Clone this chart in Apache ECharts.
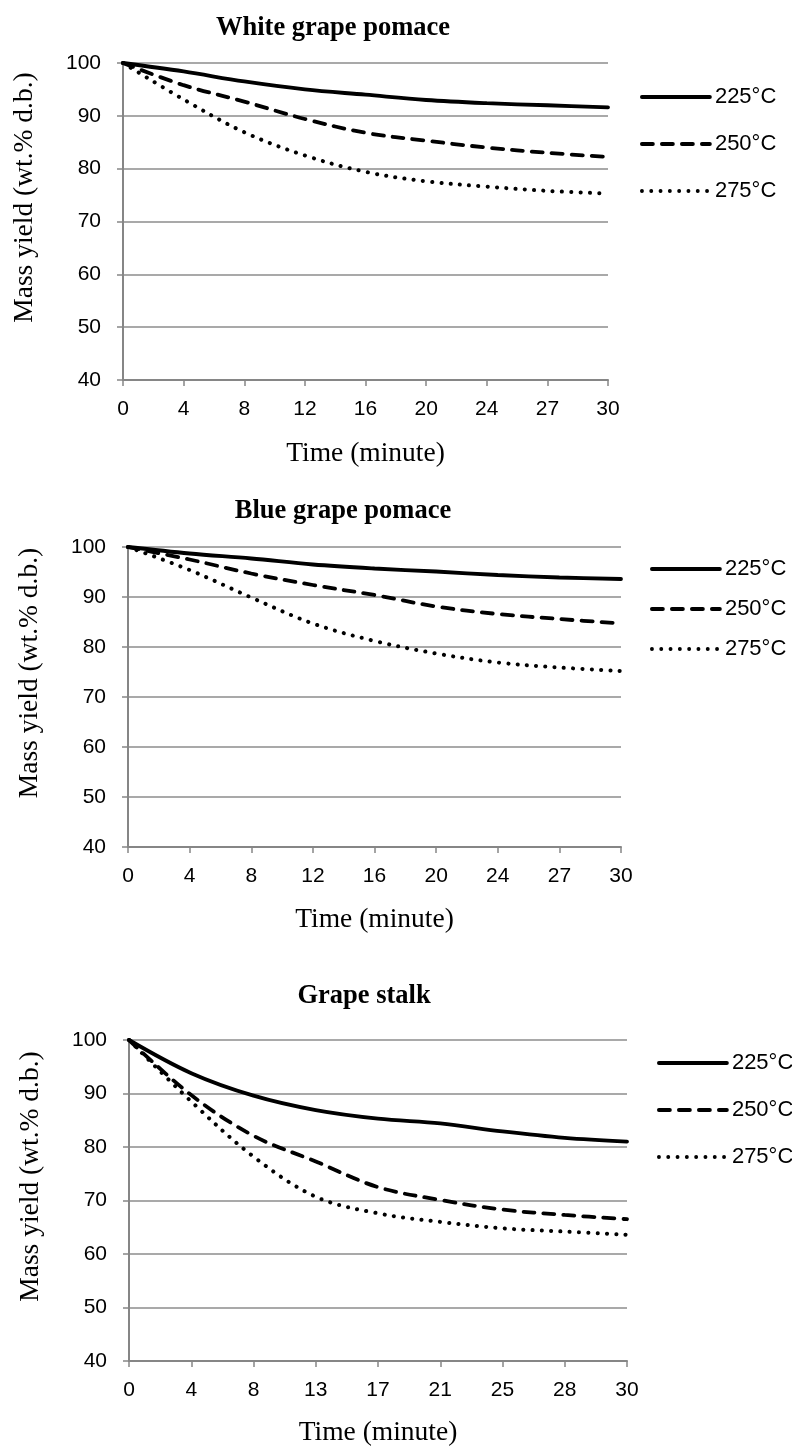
<!DOCTYPE html>
<html>
<head>
<meta charset="utf-8">
<script src="https://cdn.jsdelivr.net/npm/echarts@6/dist/echarts.min.js"></script>
<style>
html,body{margin:0;padding:0;background:#fff;}
#chart{width:792px;height:1448px;}
</style>
</head>
<body>
<div id="chart"></div>
<script>
// ---- data ----
const panelTitles = ['White grape pomace', 'Blue grape pomace', 'Grape stalk'];
const tempNames = ['225°C', '250°C', '275°C'];
const timeLabelsPomace = ['0', '4', '8', '12', '16', '20', '24', '27', '30'];
const timeLabelsStalk = ['0', '4', '8', '13', '17', '21', '25', '28', '30'];

const white225 = [100, 98.4, 96.5, 95.0, 94.0, 93.0, 92.4, 92.0, 91.6];
const white250 = [100, 95.8, 92.7, 89.4, 86.8, 85.3, 84.0, 83.0, 82.2];
const white275 = [100, 93.1, 86.9, 82.5, 79.4, 77.6, 76.6, 75.8, 75.3];

const blue225 = [100, 98.7, 97.7, 96.5, 95.7, 95.1, 94.4, 93.9, 93.6];
const blue250 = [100, 97.5, 94.7, 92.4, 90.4, 88.1, 86.6, 85.6, 84.7];
const blue275 = [100, 95.4, 89.9, 84.7, 81.2, 78.7, 76.9, 75.9, 75.2];

const stalk225 = [100, 93.8, 89.6, 86.9, 85.3, 84.4, 82.9, 81.7, 81.0];
const stalk250 = [100, 89.7, 82.1, 77.3, 72.5, 70.1, 68.3, 67.3, 66.5];
const stalk275 = [100, 88.5, 78.2, 70.7, 67.6, 66.0, 64.8, 64.2, 63.6];

const yMin = 40, yMax = 100, yStep = 10;
const xAxisTitle = 'Time (minute)';
const yAxisTitle = 'Mass yield (wt.% d.b.)';

// ---- layout / style ----
const panels = [
  { cats: timeLabelsPomace, series: [white225, white250, white275],
    grid: { left: 123, width: 485, top: 63, height: 317 },
    titleX: 333, titleY: 15, legendLeft: 640, legendTop: 86, legendGap: 25, xNameGap: 60 },
  { cats: timeLabelsPomace, series: [blue225, blue250, blue275],
    grid: { left: 128, width: 493, top: 547, height: 300 },
    titleX: 343, titleY: 498, legendLeft: 650, legendTop: 558, legendGap: 18, xNameGap: 59 },
  { cats: timeLabelsStalk, series: [stalk225, stalk250, stalk275],
    grid: { left: 129, width: 498, top: 1040, height: 321 },
    titleX: 364, titleY: 983, legendLeft: 657, legendTop: 1052, legendGap: 25, xNameGap: 58 }
];
const lineTypes = ['solid', [11, 9], [0.1, 9.2]];
const lineWidths = [3.8, 3.8, 4];
const axisGrey = '#868686';
const serif = 'Liberation Serif';
const sans = 'Liberation Sans';

const option = {
  backgroundColor: '#ffffff',
  animation: false,
  title: [], legend: [], grid: [], xAxis: [], yAxis: [], series: []
};

panels.forEach((p, i) => {
  option.title.push({
    text: panelTitles[i], left: p.titleX, top: p.titleY, textAlign: 'center', padding: 0,
    textStyle: { fontFamily: serif, fontWeight: 'bold', fontSize: 26.5, color: '#000' }
  });
  option.grid.push(Object.assign({ containLabel: false }, p.grid));
  option.xAxis.push({
    type: 'category', gridIndex: i, data: p.cats, boundaryGap: false,
    name: xAxisTitle, nameLocation: 'middle', nameGap: p.xNameGap,
    nameTextStyle: { fontFamily: serif, fontSize: 27.5, color: '#000' },
    axisLine: { show: true, lineStyle: { color: axisGrey, width: 2 } },
    axisTick: { show: true, length: 6, lineStyle: { color: axisGrey, width: 1.5 } },
    axisLabel: { fontFamily: sans, fontSize: 21, color: '#000', margin: 19, interval: 0 },
    splitLine: { show: false }
  });
  option.yAxis.push({
    type: 'value', gridIndex: i, min: yMin, max: yMax, interval: yStep,
    name: yAxisTitle, nameLocation: 'middle', nameGap: 84, nameRotate: 90,
    nameTextStyle: { fontFamily: serif, fontSize: 27.5, color: '#000', padding: [0, 0, 0, 48] },
    axisLine: { show: true, lineStyle: { color: axisGrey, width: 2 } },
    axisTick: { show: true, length: 6, lineStyle: { color: axisGrey, width: 1.5 } },
    axisLabel: { fontFamily: sans, fontSize: 21, color: '#000', margin: 22 },
    splitLine: { show: true, lineStyle: { color: '#8c8c8c', width: 1.5 } }
  });
  option.legend.push({
    orient: 'vertical', left: p.legendLeft, top: p.legendTop, padding: 0,
    itemWidth: 68, itemHeight: 22, itemGap: p.legendGap,
    data: tempNames,
    selectedMode: false,
    itemStyle: { opacity: 0 },
    lineStyle: { width: 3.8 },
    textStyle: { fontFamily: sans, fontSize: 22, color: '#000', lineHeight: 22 }
  });
  p.series.forEach((vals, k) => {
    option.series.push({
      type: 'line', name: tempNames[k], xAxisIndex: i, yAxisIndex: i,
      data: vals, smooth: 0.35, symbol: 'none',
      lineStyle: { color: '#000', width: lineWidths[k], type: lineTypes[k], cap: 'round' },
      itemStyle: { color: '#000' },
      z: 3
    });
  });
});

const chart = echarts.init(document.getElementById('chart'), null, { renderer: 'canvas', width: 792, height: 1448 });
chart.setOption(option);
</script>
</body>
</html>
